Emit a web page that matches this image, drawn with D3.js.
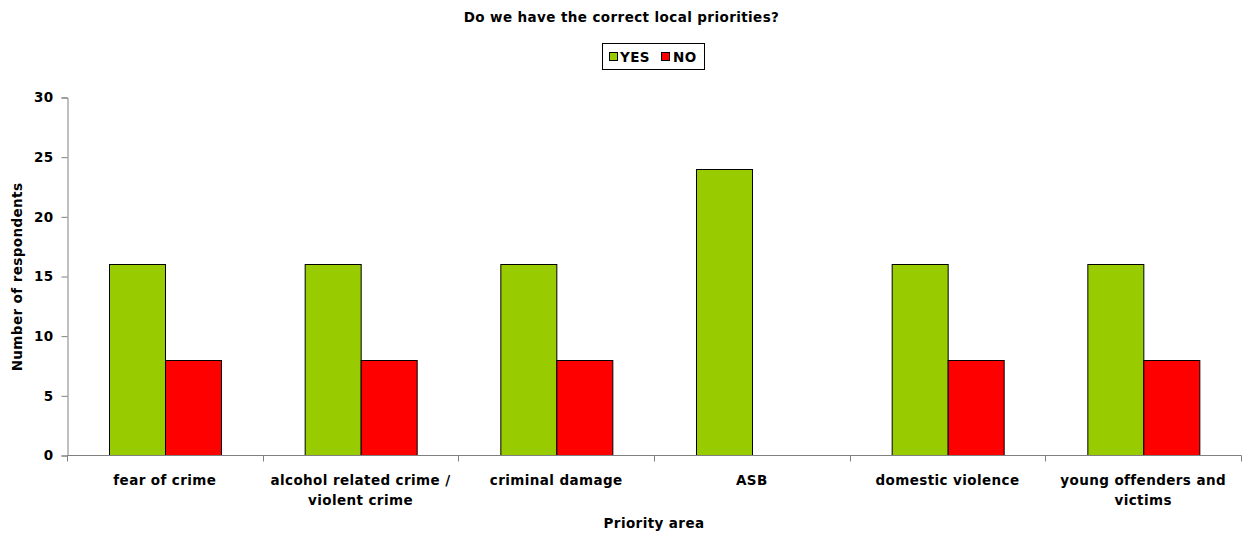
<!DOCTYPE html>
<html><head><meta charset="utf-8">
<script src="https://cdn.jsdelivr.net/npm/d3@7"></script>
<style>
body{margin:0;background:#fff;}
text{font-family:"DejaVu Sans",Verdana,sans-serif;font-weight:bold;fill:#000;letter-spacing:0.4px;}
</style></head>
<body><svg id="c" width="1244" height="536"></svg>
<script>
const categories = ["fear of crime","alcohol related crime / violent crime","criminal damage","ASB","domestic violence","young offenders and victims"];
const seriesNames = ["YES","NO"];
const yesValues = [16,16,16,24,16,16];
const noValues = [8,8,8,0,8,8];
const yTicks = [0,5,10,15,20,25,30];
const colors = {"YES":"#99CC00","NO":"#FF0000"};

(function(){
const FS = "13.5px";
const svg = d3.select("#c");
const mLeft = 67, mRight = 1241, mTop = 97, mBottom = 455;

const x0 = d3.scaleBand().domain(categories).range([mLeft, mRight]).padding(0);
const bw = x0.bandwidth();
const x1 = d3.scaleBand().domain(seriesNames).range([bw*0.2143, bw*0.7857]).padding(0);
const y = d3.scaleLinear().domain([0,30]).range([mBottom, mTop]);

const data = categories.map((c,i)=>({cat:c, vals:[{s:"YES",v:yesValues[i]},{s:"NO",v:noValues[i]}]}));

// bars
const g = svg.append("g");
g.selectAll("g.cat").data(data).join("g")
  .attr("transform", d=>`translate(${x0(d.cat)},0)`)
  .selectAll("rect").data(d=>d.vals.filter(v=>v.v>0)).join("rect")
  .attr("x", d=>Math.round(x1(d.s))+0.5)
  .attr("y", d=>Math.round(y(d.v))+0.5)
  .attr("width", Math.round(x1.bandwidth()))
  .attr("height", d=>Math.round(y(0))-Math.round(y(d.v)))
  .attr("fill", d=>colors[d.s])
  .attr("stroke","#000").attr("stroke-width",1);

// y axis
const yAxis = svg.append("g").attr("transform",`translate(${mLeft+0.5},0.5)`)
  .call(d3.axisLeft(y).tickValues(yTicks).tickSize(6).tickPadding(8).tickFormat(d3.format("d")));
yAxis.select(".domain").attr("stroke","#808080");
yAxis.selectAll(".tick line").attr("stroke","#808080");
yAxis.selectAll("text").style("font-size",FS).attr("fill","#000").attr("font-family",null);

// x axis
const xAxis = svg.append("g").attr("transform",`translate(0.5,${mBottom+0.5})`);
xAxis.append("line").attr("x1",mLeft).attr("x2",mRight).attr("stroke","#808080");
const bounds = [...categories.map(c=>x0(c)), mRight];
xAxis.selectAll("line.t").data(bounds).join("line").attr("class","t")
  .attr("x1",d=>Math.round(d)).attr("x2",d=>Math.round(d)).attr("y1",0).attr("y2",6).attr("stroke","#808080");

// x labels with wrapping
function wrapLines(text, maxW){
  const ctx = document.createElement("canvas").getContext("2d");
  ctx.font = `bold ${FS} "DejaVu Sans"`;
  const words = text.split(" ");
  const lines = []; let line = "";
  const w = s => ctx.measureText(s).width + s.length*0.4;
  words.forEach(wd=>{
    const t = line ? line+" "+wd : wd;
    if (w(t) > maxW && line){ lines.push(line); line = wd; }
    else line = t;
  });
  lines.push(line);
  return lines;
}
categories.forEach(c=>{
  const lines = wrapLines(c, 188);
  const t = svg.append("text").attr("text-anchor","middle").style("font-size",FS);
  lines.forEach((l,i)=>{
    t.append("tspan").attr("x", x0(c)+bw/2).attr("y", 485 + i*19.5).text(l);
  });
});

// titles
svg.append("text").attr("x",621.5).attr("y",22).attr("text-anchor","middle").style("font-size",FS)
  .text("Do we have the correct local priorities?");
svg.append("text").attr("x",654).attr("y",528).attr("text-anchor","middle").style("font-size",FS)
  .text("Priority area");
svg.append("text").attr("transform","translate(22,277) rotate(-90)").attr("text-anchor","middle").style("font-size",FS)
  .text("Number of respondents");

// legend
const lg = svg.append("g");
lg.append("rect").attr("x",602.5).attr("y",43.5).attr("width",102).attr("height",26)
  .attr("fill","#fff").attr("stroke","#000");
const items = [{s:"YES",x:609,tx:620},{s:"NO",x:661,tx:673}];
items.forEach(it=>{
  lg.append("rect").attr("x",it.x+0.5).attr("y",52.5).attr("width",8).attr("height",8)
    .attr("fill",colors[it.s]).attr("stroke","#000");
  lg.append("text").attr("x",it.tx).attr("y",62).style("font-size",FS).text(it.s);
});
})();
</script></body></html>
